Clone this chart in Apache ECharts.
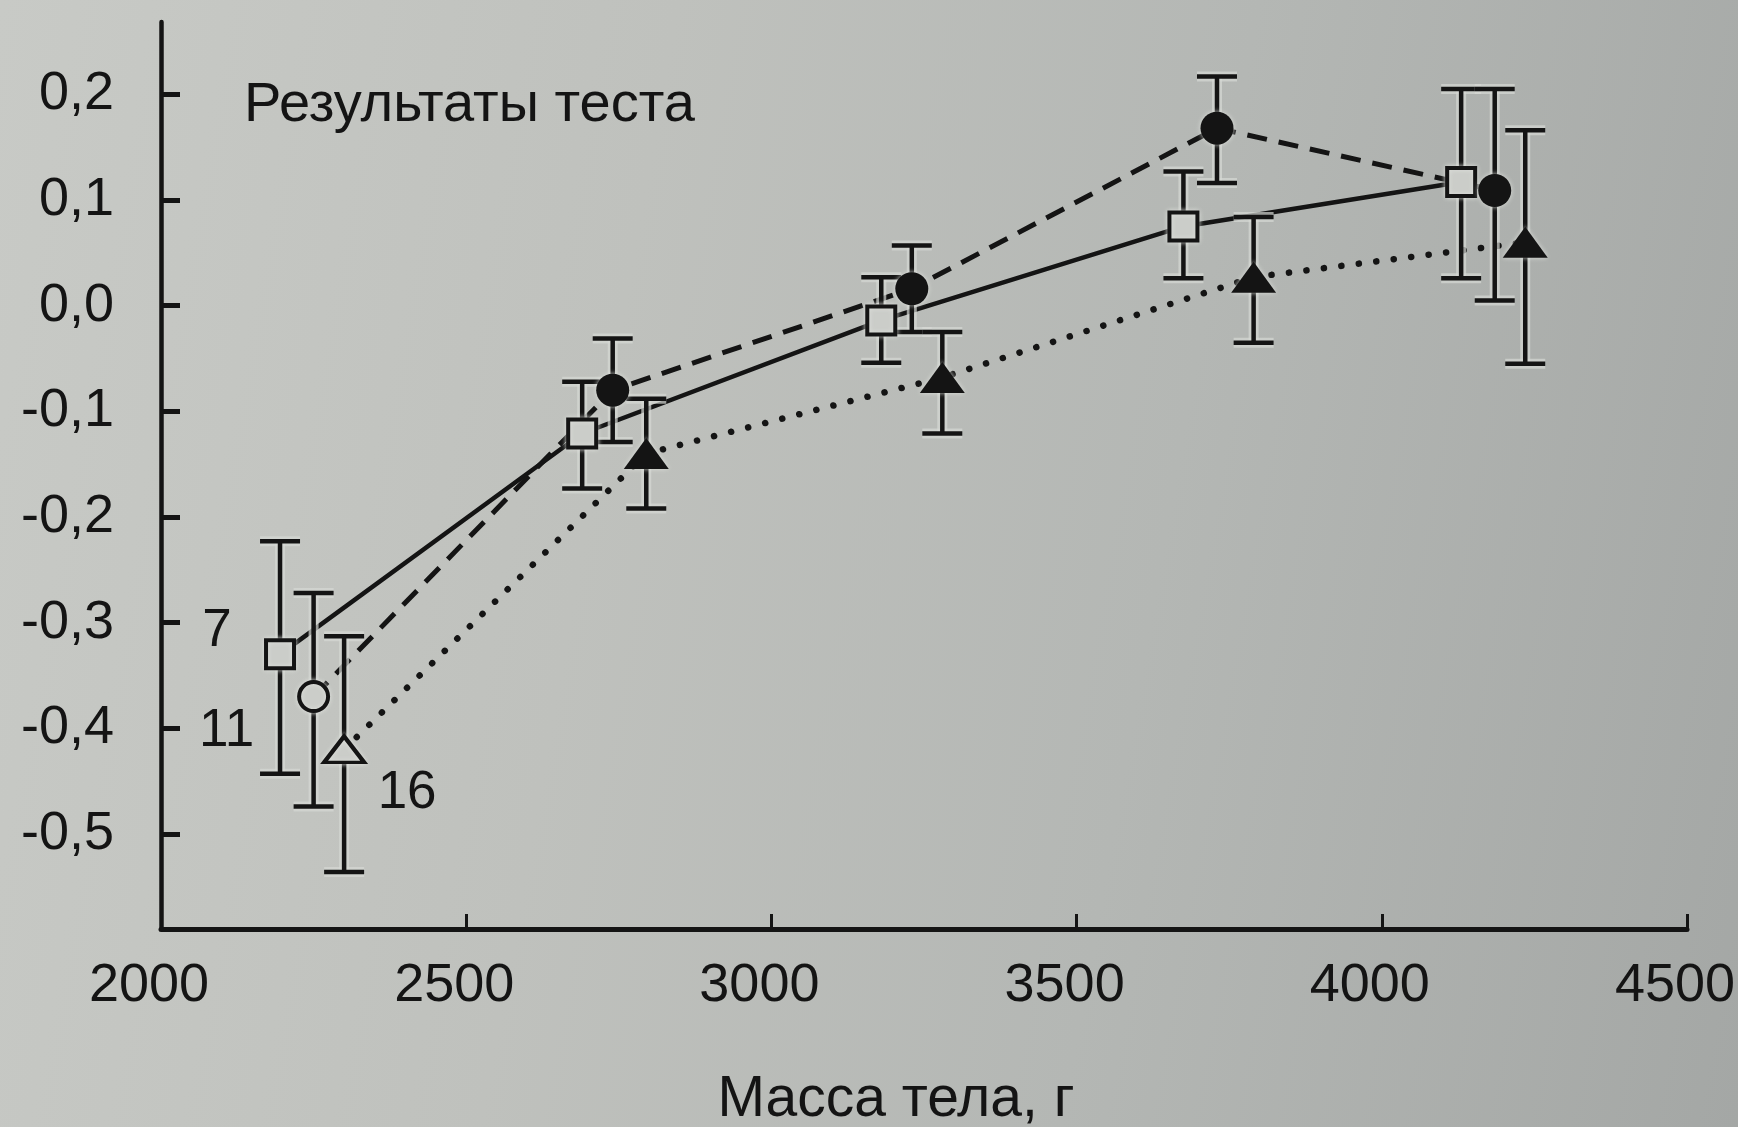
<!DOCTYPE html>
<html>
<head>
<meta charset="utf-8">
<script src="https://cdn.jsdelivr.net/npm/echarts@6/dist/echarts.min.js"></script>
<style>
  html, body { margin: 0; padding: 0; }
  #chart {
    width: 1738px;
    height: 1127px;
    background: linear-gradient(100deg, #c8cac6 0%, #bfc1bd 35%, #b4b7b4 65%, #a4a7a5 100%);
  }
</style>
</head>
<body>
<div id="chart"></div>
<script>
// Body mass (g) and test scores for three groups, with error bar bounds
const massSquares   = [2195, 2690, 3180, 3675, 4130];
const scoreSquares  = [-0.330, -0.121, -0.014, 0.075, 0.117];
const lowSquares    = [-0.443, -0.173, -0.054, 0.026, 0.026];
const highSquares   = [-0.223, -0.072, 0.027, 0.127, 0.205];

const massCircles   = [2250, 2740, 3230, 3730, 4185];
const scoreCircles  = [-0.370, -0.080, 0.016, 0.168, 0.109];
const lowCircles    = [-0.474, -0.129, -0.025, 0.116, 0.005];
const highCircles   = [-0.272, -0.031, 0.057, 0.217, 0.205];

const massTriangles  = [2300, 2795, 3280, 3790, 4235];
const scoreTriangles = [-0.420, -0.140, -0.068, 0.027, 0.060];
const lowTriangles   = [-0.536, -0.192, -0.121, -0.035, -0.055];
const highTriangles  = [-0.313, -0.088, -0.025, 0.084, 0.166];

// group sizes printed beside the first points
const groupSizes = ['7', '11', '16'];

const yTickValues = [-0.5, -0.4, -0.3, -0.2, -0.1, 0, 0.1, 0.2];

const INK = '#141414';
const FILL = '#cbcdc9';
const HALO = 'rgba(214,216,212,0.7)';
const FONT = '"Liberation Sans", Arial, Helvetica, sans-serif';

const pairs = (xs, ys) => xs.map((x, i) => [x, ys[i]]);

function errorBars(xs, lows, highs) {
  return {
    type: 'custom',
    z: 3,
    silent: true,
    data: xs.map((x, i) => [x, lows[i], highs[i]]),
    encode: { x: 0, y: [1, 2] },
    renderItem(params, api) {
      const x = api.value(0);
      const lo = api.coord([x, api.value(1)]);
      const hi = api.coord([x, api.value(2)]);
      const half = 20;
      const segs = [
        { x1: lo[0], y1: lo[1], x2: hi[0], y2: hi[1] },
        { x1: lo[0] - half, y1: lo[1], x2: lo[0] + half, y2: lo[1] },
        { x1: hi[0] - half, y1: hi[1], x2: hi[0] + half, y2: hi[1] }
      ];
      const children = [];
      segs.forEach(s => children.push({ type: 'line', shape: s, style: { stroke: HALO, lineWidth: 10 } }));
      segs.forEach(s => children.push({ type: 'line', shape: s, style: { stroke: INK, lineWidth: 4.5 } }));
      return { type: 'group', children };
    }
  };
}

function markers(xs, ys, symbol, openSize, filledSize, allOpen, sizeLabel, labelOffset) {
  return {
    type: 'scatter',
    z: 4,
    silent: true,
    symbol: symbol,
    data: xs.map((x, i) => {
      const open = allOpen || i === 0;
      const item = {
        value: [x, ys[i]],
        symbolSize: open ? openSize : filledSize,
        itemStyle: {
          opacity: 1,
          color: open ? FILL : INK,
          borderColor: INK,
          borderWidth: open ? 4 : 0,
          shadowColor: 'rgba(225,227,223,0.9)',
          shadowBlur: 5
        }
      };
      if (i === 0) {
        item.label = {
          show: true,
          formatter: sizeLabel,
          position: 'inside',
          offset: labelOffset,
          color: INK,
          opacity: 1,
          fontSize: 53,
          fontFamily: FONT,
          textShadowBlur: 0
        };
      }
      return item;
    })
  };
}

function trend(xs, ys, type, width, cap) {
  return {
    type: 'line',
    z: 2,
    silent: true,
    showSymbol: false,
    data: pairs(xs, ys),
    lineStyle: { color: INK, width: width, type: type, cap: cap || 'butt', opacity: 1 }
  };
}

const chart = echarts.init(document.getElementById('chart'), null, { renderer: 'canvas' });

chart.setOption({
  backgroundColor: 'transparent',
  animation: false,
  grid: { left: 161, right: 51, top: 22, bottom: 198, containLabel: false, outerBoundsMode: 'none' },
  xAxis: {
    type: 'value',
    min: 2000,
    max: 4500,
    interval: 500,
    axisLine: { show: true, onZero: false, lineStyle: { color: INK, width: 5 } },
    axisTick: { show: true, inside: true, length: 15, lineStyle: { color: INK, width: 3 } },
    axisLabel: {
      color: INK, fontSize: 54, fontFamily: FONT, margin: 30, padding: [0, 24, 0, 0],
      formatter: v => String(v)
    },
    splitLine: { show: false },
    name: 'Масса тела, г',
    nameLocation: 'middle',
    nameGap: 143,
    nameTextStyle: { color: INK, fontSize: 57, fontFamily: FONT, padding: [0, 56, 0, 0] }
  },
  yAxis: {
    type: 'value',
    min: -0.59,
    max: 0.2685,
    axisLine: { show: true, lineStyle: { color: INK, width: 4.5 } },
    axisTick: { show: true, inside: true, length: 19, customValues: yTickValues, lineStyle: { color: INK, width: 5 } },
    axisLabel: {
      color: INK, fontSize: 54, fontFamily: FONT, margin: 47, padding: [16, 0, 0, 0],
      customValues: yTickValues,
      formatter: v => v.toFixed(1).replace('.', ',')
    },
    splitLine: { show: false }
  },
  graphic: [{
    type: 'text',
    x: 244,
    y: 106,
    style: {
      text: 'Результаты теста',
      fill: INK,
      fontSize: 56,
      fontFamily: FONT,
      verticalAlign: 'middle',
      align: 'left'
    }
  }],
  series: [
    trend(massSquares, scoreSquares, 'solid', 4.5),
    trend(massCircles, scoreCircles, [20, 12], 5),
    trend(massTriangles, scoreTriangles, [0.1, 17.5], 6.5, 'round'),
    errorBars(massSquares, lowSquares, highSquares),
    errorBars(massCircles, lowCircles, highCircles),
    errorBars(massTriangles, lowTriangles, highTriangles),
    markers(massSquares, scoreSquares, 'rect', 28, 28, true, groupSizes[0], [-63, -23]),
    markers(massCircles, scoreCircles, 'circle', 29, 33, false, groupSizes[1], [-87, 35]),
    markers(massTriangles, scoreTriangles, 'triangle', [40, 26], [45, 31], false, groupSizes[2], [63, 44])
  ]
});
</script>
</body>
</html>
